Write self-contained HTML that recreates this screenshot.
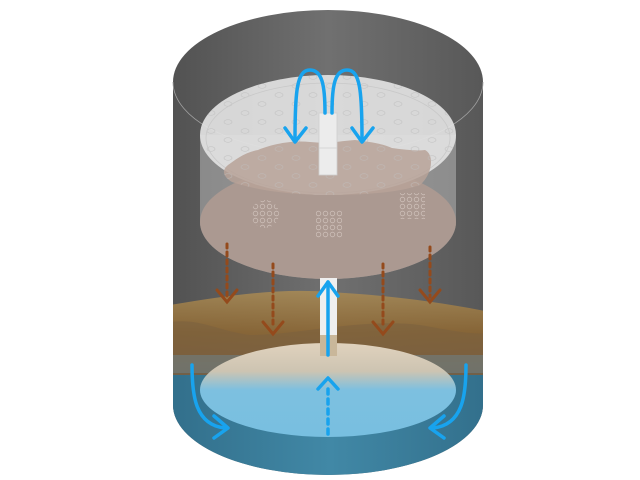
<!DOCTYPE html>
<html><head><style>html,body{margin:0;padding:0;background:#fff}svg{display:block}</style></head><body>
<svg width="640" height="480" viewBox="0 0 640 480" xmlns="http://www.w3.org/2000/svg">
<defs>
<linearGradient id="cyl" x1="0" x2="1" y1="0" y2="0">
<stop offset="0" stop-color="#525252"/><stop offset="0.5" stop-color="#707070"/><stop offset="1" stop-color="#585858"/>
</linearGradient>
<linearGradient id="water" x1="0" x2="1" y1="0" y2="0">
<stop offset="0" stop-color="#326f8b"/><stop offset="0.5" stop-color="#4188a6"/><stop offset="1" stop-color="#326f8b"/>
</linearGradient>
<linearGradient id="lens" x1="0" x2="0" y1="0" y2="1">
<stop offset="0" stop-color="#e0d2bd"/><stop offset="0.3" stop-color="#cdc4b2"/><stop offset="0.5" stop-color="#7dc0e0"/><stop offset="1" stop-color="#78bfe0"/>
</linearGradient>
<linearGradient id="sludge" x1="0" x2="0" y1="0" y2="1">
<stop offset="0" stop-color="#a88a55"/><stop offset="0.5" stop-color="#8c6632"/><stop offset="1" stop-color="#7a5d3e"/>
</linearGradient>
<pattern id="holes" width="34" height="18" patternUnits="userSpaceOnUse">
<ellipse cx="7" cy="5" rx="4" ry="2.3" fill="none" stroke="#c4c4c4" stroke-width="0.7"/>
<ellipse cx="24" cy="14" rx="4" ry="2.3" fill="none" stroke="#c4c4c4" stroke-width="0.7"/>
</pattern>
<pattern id="dots" width="7" height="7" patternUnits="userSpaceOnUse">
<circle cx="3.5" cy="3.5" r="2.3" fill="none" stroke="#cdbfb8" stroke-width="0.8"/>
</pattern>
<clipPath id="cylclip"><path d="M173 82 L173 405 A155 70 0 0 0 483 405 L483 82 Z"/></clipPath>
</defs>

<path d="M173 82 L173 405 A155 70 0 0 0 483 405 L483 82 Z" fill="url(#cyl)"/>
<ellipse cx="328" cy="82" rx="155" ry="72" fill="url(#cyl)"/>
<path d="M173 82 A155 72 0 0 0 483 82" fill="none" stroke="#a0a0a0" stroke-width="0.8"/>

<g clip-path="url(#cylclip)">
<rect x="170" y="362" width="320" height="120" fill="url(#water)"/>
<path d="M170 305 C230 295 280 288 330 292 C380 295 430 300 490 312 L490 375 L170 375 Z" fill="url(#sludge)" opacity="0.88"/>
<path d="M170 322 C200 318 215 330 250 335 C300 335 360 318 420 325 C450 330 470 335 490 333 L490 372 L170 372 Z" fill="#7a6040" opacity="0.55"/>
<rect x="170" y="355" width="320" height="18" fill="#6a8a98" opacity="0.45"/>
</g>
<ellipse cx="328" cy="390" rx="128" ry="47" fill="url(#lens)"/>

<path d="M200 135 L200 222 A128 57 0 0 0 456 222 L456 135 Z" fill="#bdbdbd" opacity="0.5"/>
<ellipse cx="328" cy="222" rx="128" ry="57" fill="#ab9991"/>
<ellipse cx="265" cy="214" rx="14" ry="14" fill="url(#dots)"/>
<rect x="316" y="210" width="26" height="28" fill="url(#dots)"/>
<rect x="399" y="193" width="26" height="26" fill="url(#dots)"/>
<ellipse cx="328" cy="135" rx="128" ry="60" fill="#e2e2e2" opacity="0.92"/>
<ellipse cx="328" cy="135" rx="128" ry="60" fill="url(#holes)"/>
<ellipse cx="328" cy="138" rx="122" ry="55" fill="none" stroke="#c8c8c8" stroke-width="0.8"/>
<path d="M228 165 C235 160 245 152 258 150 C270 145 290 140 310 142 C330 144 340 141 355 140 C370 142 380 143 392 148 C405 150 420 151 425 150 C435 155 432 175 420 185 C400 192 370 195 328 195 C290 195 255 190 232 182 C222 176 222 170 228 165 Z" fill="#b7a298" opacity="0.85"/>
<path d="M228 165 C235 160 245 152 258 150 C270 145 290 140 310 142 C330 144 340 141 355 140 C370 142 380 143 392 148 C405 150 420 151 425 150 C435 155 432 175 420 185 C400 192 370 195 328 195 C290 195 255 190 232 182 C222 176 222 170 228 165 Z" fill="url(#holes)" opacity="0.6"/>

<g stroke="#944a1c" stroke-width="3" fill="none" stroke-linecap="round">
<g stroke-dasharray="4 4">
<line x1="227" y1="244" x2="227" y2="297"/><line x1="273" y1="264" x2="273" y2="328"/>
<line x1="383" y1="264" x2="383" y2="328"/><line x1="430" y1="247" x2="430" y2="297"/>
</g>
<polyline points="217,290 227,302 237,290"/><polyline points="263,322 273,334 283,322"/>
<polyline points="373,322 383,334 393,322"/><polyline points="420,290 430,302 440,290"/>
</g>

<rect x="319" y="113" width="18" height="62" fill="#ececec" stroke="#cfcfcf" stroke-width="0.8"/>
<line x1="319" y1="148" x2="337" y2="148" stroke="#cfcfcf" stroke-width="0.8"/>
<rect x="320" y="278" width="17" height="78" fill="#efefef"/>
<rect x="320" y="335" width="17" height="21" fill="#c9b79a"/>

<g stroke="#18a3ee" stroke-width="3.5" fill="none" stroke-linecap="round" stroke-linejoin="round">
<path d="M325 113 C325 85 322 70 310 70 C297 70 295 90 295 140"/>
<polyline points="285,128 295,142 306,128"/>
<path d="M332 113 C332 85 335 70 347 70 C360 70 362 90 362 140"/>
<polyline points="352,128 362,142 373,128"/>
<line x1="328" y1="355" x2="328" y2="282"/><polyline points="318,296 328,282 338,296"/>
<line x1="328" y1="434" x2="328" y2="385" stroke-dasharray="5 5"/><polyline points="318,389 328,378 338,389"/>
<path d="M192 365 C192 395 195 425 225 428"/><polyline points="214,416 228,428 214,438"/>
<path d="M466 365 C466 395 463 425 433 428"/><polyline points="444,416 430,428 444,438"/>
</g>
</svg>
</body></html>
